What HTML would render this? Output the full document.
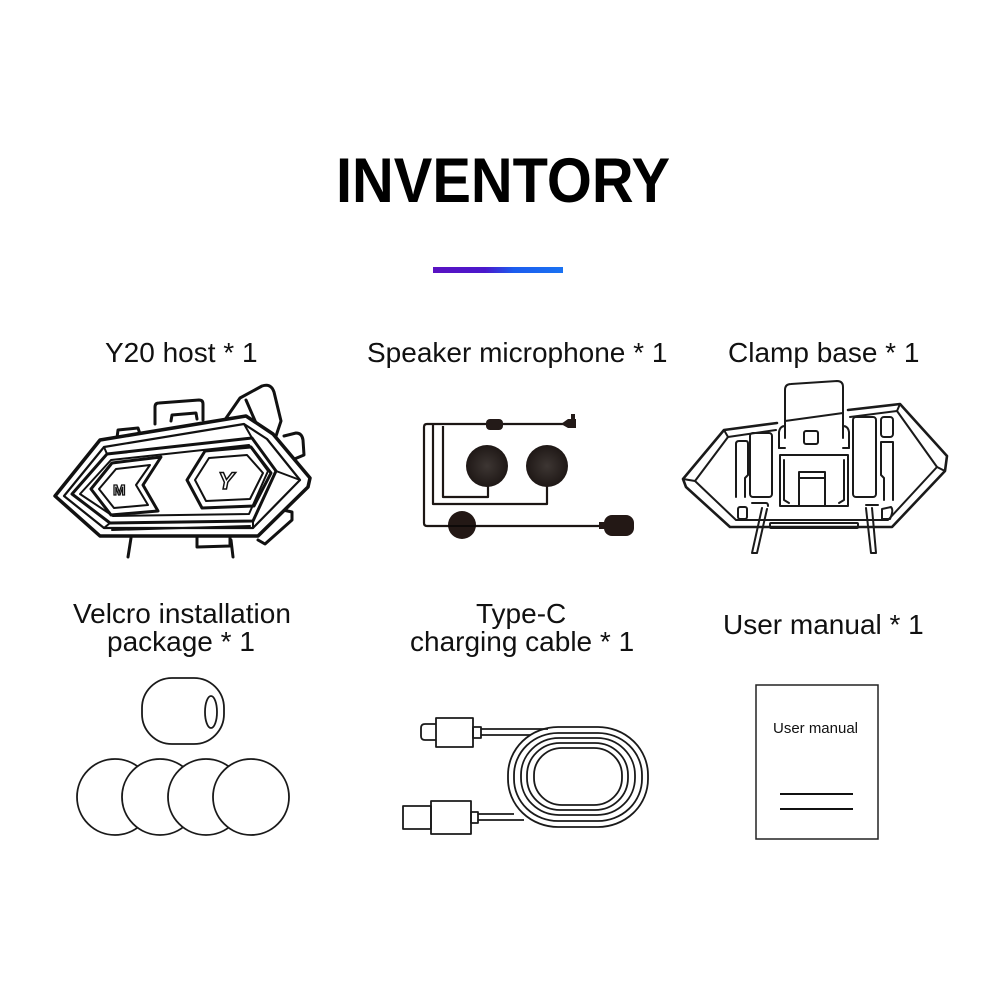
<!DOCTYPE html>
<html>
<head>
<meta charset="utf-8">
<style>
  html,body{margin:0;padding:0;background:#fff;}
  svg{display:block;}
  text{font-family:"Liberation Sans", Arial, sans-serif;fill:#111;}
</style>
</head>
<body>
<svg width="1000" height="1000" viewBox="0 0 1000 1000" xmlns="http://www.w3.org/2000/svg">
  <defs>
    <linearGradient id="bar" x1="0" x2="1" y1="0" y2="0">
      <stop offset="0" stop-color="#5a12c2"/>
      <stop offset="0.4" stop-color="#4a18cc"/>
      <stop offset="0.62" stop-color="#1c5cee"/>
      <stop offset="1" stop-color="#1a72f2"/>
    </linearGradient>
    <radialGradient id="spk" cx="0.5" cy="0.5" r="0.5">
      <stop offset="0" stop-color="#3d3633"/>
      <stop offset="1" stop-color="#1f1816"/>
    </radialGradient>
  </defs>
  <rect width="1000" height="1000" fill="#fff"/>

  <!-- Title -->
  <text x="336" y="202" font-size="63" font-weight="bold" textLength="334" lengthAdjust="spacingAndGlyphs" style="fill:#000">INVENTORY</text>
  <rect x="433" y="267" width="130" height="6" fill="url(#bar)"/>

  <!-- Labels -->
  <text x="105" y="362" font-size="28">Y20 host * 1</text>
  <text x="367" y="362" font-size="28">Speaker microphone * 1</text>
  <text x="728" y="362" font-size="28">Clamp base * 1</text>
  <text x="73" y="623" font-size="28">Velcro installation</text>
  <text x="107" y="651" font-size="28">package * 1</text>
  <text x="476" y="623" font-size="28">Type-C</text>
  <text x="410" y="651" font-size="28">charging cable * 1</text>
  <text x="723" y="634" font-size="28">User manual * 1</text>

  <!-- ===== Y20 host ===== -->
  <g fill="none" stroke="#111" stroke-width="3" stroke-linejoin="round" stroke-linecap="round">
    <path d="M155,424 L155,407 Q155,403 159,403 L199,400 Q203,400 203,404 L203,420" fill="#fff"/>
    <path d="M117,438 L118,430 L138,428 L140,434" fill="#fff"/>
    <path d="M171,421 L172,415 L196,413 L197,419" fill="#fff"/>
    <path d="M222,424 L240,398 L262,386 Q271,383 274,392 L281,421 L276,436" fill="#fff"/>
    <path d="M246,400 L256,423"/>
    <path d="M284,436 L296,433 Q302,433 303,440 L304,455 L292,460" fill="#fff"/>
    <path d="M255,514 L283,510 L292,512 L292,520 L265,544 L258,540" fill="#fff"/>
    <path d="M131,538 L128,557"/>
    <path d="M231,540 L233,557"/>
    <path d="M197,537 L197,547 L230,546 L230,538" fill="#fff"/>
    <path d="M55,496 L100,440 L246,416 L273,434 L310,478 L308,487 L258,536 L100,536 Z" fill="#fff" stroke-width="3.5"/>
    <path d="M64,496 L104,447 L244,424 L267,439 L300,480 L253,528 L104,528 Z" stroke-width="2.2"/>
    <path d="M72,494 L107,454 L252,438 L276,471 L253,521 L110,523 Z" stroke-width="3"/>
    <path d="M80,494 L111,460 L249,445 L268,471 L249,514 L113,516 Z" stroke-width="2"/>
    <path d="M104,447 L107,454 M244,424 L252,438 M300,480 L276,471 M253,528 L253,521 M104,528 L110,523" stroke-width="2"/>
    <path d="M112,530 L250,526" stroke-width="2"/>
    <path d="M112,463 L161,457 L143,485 L158,511 L111,515 L91,489 Z" stroke-width="3"/>
    <path d="M116,469 L150,465 L136,485 L148,505 L114,508 L99,489 Z" stroke-width="2"/>
    <path d="M205,451 L251,447 L271,473 L254,506 L202,508 L187,480 Z" stroke-width="3"/>
    <path d="M209,458 L247,455 L263,473 L250,499 L206,501 L195,480 Z" stroke-width="2"/>
  </g>
  <text x="113" y="495" font-size="15" font-weight="bold" style="fill:#fff;stroke:#111;stroke-width:1.3">M</text>
  <text x="218" y="489" font-size="24" font-weight="bold" font-style="italic" style="fill:#fff;stroke:#111;stroke-width:1.5">Y</text>

  <!-- ===== Speaker microphone ===== -->
  <g fill="none" stroke="#1c1614" stroke-width="2.2" stroke-linejoin="round">
    <path d="M563,424 L427,424 Q424,424 424,427 L424,523 Q424,526 427,526 L607,526"/>
    <path d="M433,424 L433,504 L547,504 L547,486"/>
    <path d="M443,426 L443,497 L488,497 L488,486"/>
  </g>
  <rect x="486" y="419" width="17" height="11" rx="4" fill="#231a18"/>
  <polygon points="561,424 568,419 576,419 576,428 568,428" fill="#231a18"/>
  <rect x="571" y="414" width="4" height="6" fill="#231a18"/>
  <circle cx="487" cy="466" r="21" fill="url(#spk)"/>
  <circle cx="547" cy="466" r="21" fill="url(#spk)"/>
  <circle cx="462" cy="525" r="14" fill="#231815"/>
  <line x1="448" y1="526" x2="476" y2="526" stroke="#0d0908" stroke-width="2"/>
  <rect x="599" y="522" width="8" height="7" fill="#231815"/>
  <rect x="604" y="515" width="30" height="21" rx="8" fill="#231815"/>

  <!-- ===== Clamp base ===== -->
  <g fill="none" stroke="#1a1a1a" stroke-width="2" stroke-linejoin="round" stroke-linecap="round">
    <path d="M762,508 L752,553 M767,509 L757,553 M752,553 L757,553"/>
    <path d="M866,508 L871,553 M872,508 L876,553 M871,553 L876,553"/>
    <path d="M785,438 L785,390 Q785,384 791,384 L837,381 Q843,381 843,387 L843,438" fill="#fff"/>
    <path d="M785,421 L843,413"/>
    <path d="M777,423 L724,430 L683,479 L686,487 L730,527 L892,527 L945,471 L947,456 L900,404 L848,410" stroke-width="2.6"/>
    <path d="M776,430 L728,437 L695,481 L736,520 L888,520 L937,467 L897,411 L850,417"/>
    <path d="M724,430 L728,437 M900,404 L897,411 M945,471 L937,467 M683,479 L695,481"/>
    <path d="M779,448 L779,432 Q780,426 785,426"/>
    <path d="M849,448 L849,432 Q848,426 843,426"/>
    <path d="M779,448 L785,448 M843,448 L849,448"/>
    <rect x="804" y="431" width="14" height="13" rx="2"/>
    <path d="M780,455 L848,455 L848,506 L780,506 Z"/>
    <path d="M784,460 L784,500 L789,503 M844,460 L844,500 L839,503"/>
    <path d="M799,506 L799,472 L825,472 L825,506 M799,478 L825,478"/>
    <rect x="750" y="433" width="22" height="64" rx="3"/>
    <path d="M736,497 L736,444 Q736,441 739,441 L746,441 Q748,441 748,444 L748,475 L745,478 L745,497"/>
    <rect x="738" y="507" width="9" height="12" rx="2"/>
    <path d="M752,503 L766,503 Q768,503 768,506"/>
    <rect x="853" y="417" width="23" height="80" rx="3"/>
    <rect x="881" y="417" width="12" height="20" rx="3"/>
    <path d="M881,442 L893,442 L893,500 M881,442 L881,475 L884,478 L884,500"/>
    <path d="M882,519 L882,509 L891,507 Q894,510 890,519 Z"/>
    <path d="M866,505 L878,505"/>
    <rect x="770" y="523" width="88" height="5" rx="1"/>
  </g>

  <!-- ===== Velcro ===== -->
  <g fill="#fff" stroke="#1a1a1a" stroke-width="1.8">
    <rect x="142" y="678" width="82" height="66" rx="30" ry="30"/>
    <ellipse cx="211" cy="712" rx="6" ry="16"/>
    <circle cx="115" cy="797" r="38"/>
    <circle cx="160" cy="797" r="38"/>
    <circle cx="206" cy="797" r="38"/>
    <circle cx="251" cy="797" r="38"/>
  </g>

  <!-- ===== Type-C cable ===== -->
  <g fill="none" stroke="#1a1a1a" stroke-width="1.8" stroke-linejoin="round">
    <rect x="508" y="727" width="140" height="100" rx="50" ry="48"/>
    <rect x="514" y="733" width="128" height="88" rx="44" ry="42"/>
    <rect x="521" y="738" width="114" height="77" rx="38" ry="37"/>
    <rect x="527" y="743" width="101" height="67" rx="33" ry="32"/>
    <rect x="534" y="748" width="88" height="57" rx="28" ry="27"/>
    <path d="M436,724 L425,724 Q421,724 421,728 L421,736 Q421,740 425,740 L436,740"/>
    <rect x="436" y="718" width="37" height="29"/>
    <rect x="473" y="727" width="8" height="11"/>
    <path d="M481,729 L548,729 M481,735 L530,735"/>
    <rect x="403" y="806" width="28" height="23"/>
    <rect x="431" y="801" width="40" height="33"/>
    <rect x="471" y="812" width="7" height="11"/>
    <path d="M478,814 L514,814 M478,820 L524,820"/>
  </g>

  <!-- ===== User manual ===== -->
  <rect x="756" y="685" width="122" height="154" fill="#fff" stroke="#222" stroke-width="1.5"/>
  <text x="773" y="733" font-size="15" textLength="85" lengthAdjust="spacingAndGlyphs">User manual</text>
  <line x1="780" y1="794" x2="853" y2="794" stroke="#111" stroke-width="2"/>
  <line x1="780" y1="809" x2="853" y2="809" stroke="#111" stroke-width="2"/>
</svg>
</body>
</html>
